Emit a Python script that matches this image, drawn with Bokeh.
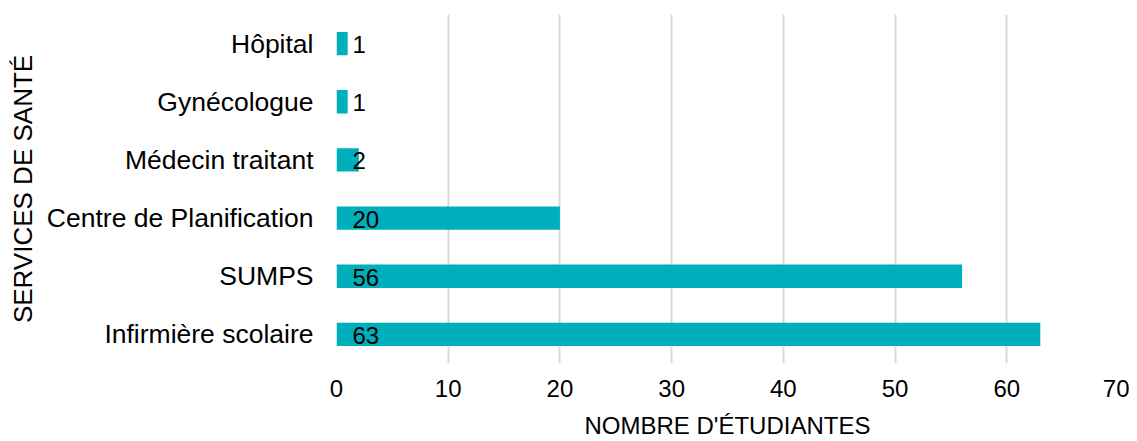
from bokeh.plotting import figure
from bokeh.models import ColumnDataSource, Range1d, FixedTicker, LabelSet
from bokeh.core.properties import value
from bokeh.embed import file_html
from bokeh.resources import INLINE

categories = ["Infirmière scolaire", "SUMPS", "Centre de Planification",
              "Médecin traitant", "Gynécologue", "Hôpital"]
values = [63, 56, 20, 2, 1, 1]
x_ticks = [0, 10, 20, 30, 40, 50, 60, 70]

FONT = "Liberation Sans"
COLOR = "#00AFBC"

src = ColumnDataSource(dict(cat=categories, val=values,
                            lab=[str(v) for v in values],
                            zero=[0] * len(values)))

p = figure(y_range=categories, x_range=Range1d(0, 70),
           width=1129, height=441, output_backend="svg",
           toolbar_location=None,
           min_border_left=336, min_border_right=11,
           min_border_top=14, min_border_bottom=78)

p.hbar(y="cat", right="val", left=0, height=0.4, source=src,
       color=COLOR, line_color=None)

labels = LabelSet(x="zero", y="cat", text="lab", source=src,
                  x_offset=16, y_offset=-1, text_align="left",
                  text_baseline="middle", text_font=value(FONT),
                  text_font_size="24px", text_color="#000000")
p.add_layout(labels)

p.outline_line_color = None
p.ygrid.grid_line_color = None
p.xgrid.grid_line_color = "#d9d9d9"
p.xgrid.grid_line_width = 2

p.xaxis.ticker = FixedTicker(ticks=x_ticks)
p.xaxis.axis_line_color = None
p.xaxis.major_tick_line_color = None
p.xaxis.minor_tick_line_color = None
p.xaxis.major_label_text_font = FONT
p.xaxis.major_label_text_font_size = "24px"
p.xaxis.major_label_text_color = "#000000"
p.xaxis.major_label_standoff = 10
p.xaxis.axis_label = "NOMBRE D'ÉTUDIANTES"
p.xaxis.axis_label_text_font = FONT
p.xaxis.axis_label_text_font_size = "24px"
p.xaxis.axis_label_text_font_style = "normal"
p.xaxis.axis_label_text_color = "#000000"
p.xaxis.axis_label_standoff = 12

p.yaxis.axis_line_color = None
p.yaxis.major_tick_line_color = None
p.yaxis.minor_tick_line_color = None
p.yaxis.major_label_text_font = FONT
p.yaxis.major_label_text_font_size = "26.5px"
p.yaxis.major_label_text_color = "#000000"
p.yaxis.major_label_standoff = 17
p.yaxis.axis_label = "SERVICES DE SANTÉ"
p.yaxis.axis_label_text_font = FONT
p.yaxis.axis_label_text_font_size = "26px"
p.yaxis.axis_label_text_font_style = "normal"
p.yaxis.axis_label_text_color = "#000000"
p.yaxis.axis_label_standoff = 6

open("out.html", "w").write(file_html(p, INLINE))
